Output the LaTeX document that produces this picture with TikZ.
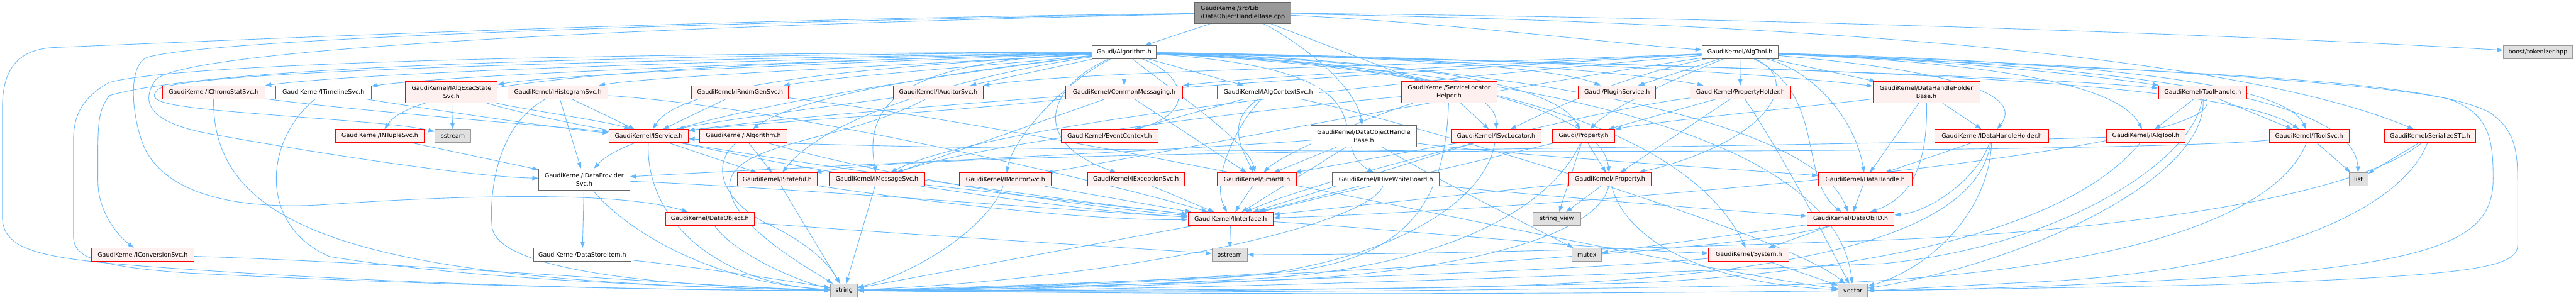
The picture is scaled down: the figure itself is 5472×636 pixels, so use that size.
\documentclass[tikz,border=0pt]{standalone}
\usepackage{fontspec}
\setmainfont{DejaVu Sans}
\usetikzlibrary{arrows.meta,calc,backgrounds}
\definecolor{eb}{HTML}{63B8FF}
\definecolor{rb}{HTML}{FF0000}
\definecolor{rf}{HTML}{FFF0F0}
\definecolor{gb}{HTML}{666666}
\definecolor{xf}{HTML}{E0E0E0}
\definecolor{xb}{HTML}{999999}
\definecolor{mf}{HTML}{999999}
\tikzset{
 nb/.style={draw, rectangle, inner sep=0pt, minimum height=28pt, font=\fontsize{12.7}{17}\selectfont, line width=1.2pt, align=center},
 redn/.style={nb, draw=rb, fill=rf},
 whn/.style={nb, draw=gb, fill=white},
 extn/.style={nb, draw=xb, fill=xf},
 mainn/.style={nb, draw=gb, fill=mf, align=left},
 two/.style={minimum height=45pt},
 dep/.style={draw=eb, line width=1.2pt, -{Triangle[length=13pt,width=9pt]}},
}
\begin{document}
\begin{tikzpicture}[x=1pt,y=-1pt]
\useasboundingbox (0,0) rectangle (5472,636);
% row 1-2
\node[mainn, two, minimum width=204pt] (main) at (2640,27.5) {GaudiKernel/src/Lib\\/DataObjectHandleBase.cpp};
\node[whn, minimum width=137pt] (alg) at (2388,111) {Gaudi/Algorithm.h};
\node[whn, minimum width=162pt] (algtool) at (3696,111) {GaudiKernel/AlgTool.h};
\node[extn, minimum width=147pt] (boost) at (5391,111) {boost/tokenizer.hpp};
% row 3
\node[redn, minimum width=217pt] (chrono) at (454,196) {GaudiKernel/IChronoStatSvc.h};
\node[whn, minimum width=203pt] (timeline) at (687,196) {GaudiKernel/ITimelineSvc.h};
\node[redn, two, minimum width=195pt] (execstate) at (959,196) {GaudiKernel/IAlgExecState\\Svc.h};
\node[redn, minimum width=213pt] (histo) at (1185,196) {GaudiKernel/IHistogramSvc.h};
\node[redn, minimum width=206pt] (rndm) at (1572,196) {GaudiKernel/IRndmGenSvc.h};
\node[redn, minimum width=190pt] (auditor) at (1993,196) {GaudiKernel/IAuditorSvc.h};
\node[redn, minimum width=248pt] (commsg) at (2388,196) {GaudiKernel/CommonMessaging.h};
\node[whn, minimum width=217pt] (algctx) at (2694,196) {GaudiKernel/IAlgContextSvc.h};
\node[redn, two, minimum width=203pt] (slh) at (3078,196) {GaudiKernel/ServiceLocator\\Helper.h};
\node[redn, minimum width=164pt] (plugin) at (3435,196) {Gaudi/PluginService.h};
\node[redn, minimum width=213pt] (propholder) at (3697,196) {GaudiKernel/PropertyHolder.h};
\node[redn, two, minimum width=227pt] (dhhb) at (4092,196) {GaudiKernel/DataHandleHolder\\Base.h};
\node[redn, minimum width=188pt] (toolhandle) at (4679,196) {GaudiKernel/ToolHandle.h};
% row 4
\node[redn, minimum width=188pt] (ntuple) at (807,289) {GaudiKernel/INTupleSvc.h};
\node[extn, minimum width=77pt] (sstream) at (962,289) {sstream};
\node[redn, minimum width=168pt] (iservice) at (1378,289) {GaudiKernel/IService.h};
\node[redn, minimum width=185pt] (ialgorithm) at (1579,289) {GaudiKernel/IAlgorithm.h};
\node[redn, minimum width=206pt] (evctx) at (2357,289) {GaudiKernel/EventContext.h};
\node[whn, two, minimum width=224pt] (dohb) at (2897,289) {GaudiKernel/DataObjectHandle\\Base.h};
\node[redn, minimum width=192pt] (isvcloc) at (3178,289) {GaudiKernel/ISvcLocator.h};
\node[redn, minimum width=133pt] (property) at (3364,289) {Gaudi/Property.h};
\node[redn, minimum width=241pt] (idhh) at (4231,289) {GaudiKernel/IDataHandleHolder.h};
\node[redn, minimum width=168pt] (ialgtool) at (4558,289) {GaudiKernel/IAlgTool.h};
\node[redn, minimum width=170pt] (itoolsvc) at (4905,289) {GaudiKernel/IToolSvc.h};
\node[redn, minimum width=194pt] (serial) at (5162,289) {GaudiKernel/SerializeSTL.h};
% row 5
\node[whn, two, minimum width=193pt] (idps) at (1241,381) {GaudiKernel/IDataProvider\\Svc.h};
\node[redn, minimum width=170pt] (istateful) at (1651,381) {GaudiKernel/IStateful.h};
\node[redn, minimum width=202pt] (imsg) at (1863,381) {GaudiKernel/IMessageSvc.h};
\node[redn, minimum width=195pt] (imon) at (2136,381) {GaudiKernel/IMonitorSvc.h};
\node[redn, minimum width=206pt] (iexc) at (2413,381) {GaudiKernel/IExceptionSvc.h};
\node[redn, minimum width=168pt] (smartif) at (2670,381) {GaudiKernel/SmartIF.h};
\node[whn, minimum width=227pt] (ihwb) at (2944,381) {GaudiKernel/IHiveWhiteBoard.h};
\node[redn, minimum width=175pt] (iprop) at (3420,381) {GaudiKernel/IProperty.h};
\node[redn, minimum width=199pt] (dh) at (3962,381) {GaudiKernel/DataHandle.h};
\node[extn, minimum width=40pt] (list) at (5010,381) {list};
% row 6
\node[redn, minimum width=189pt] (dobj) at (1508,465) {GaudiKernel/DataObject.h};
\node[redn, minimum width=181pt] (iint) at (2614,465) {GaudiKernel/IInterface.h};
\node[extn, minimum width=101pt] (sv) at (3307,465) {string\_view};
\node[redn, minimum width=185pt] (dobjid) at (3931,465) {GaudiKernel/DataObjID.h};
% row 7
\node[redn, minimum width=217pt] (iconv) at (303,541) {GaudiKernel/IConversionSvc.h};
\node[whn, minimum width=206pt] (dsi) at (1237,541) {GaudiKernel/DataStoreItem.h};
\node[extn, minimum width=75pt] (ostream) at (2612,541) {ostream};
\node[extn, minimum width=63pt] (mutex) at (3371,541) {mutex};
\node[redn, minimum width=171pt] (system) at (3715,541) {GaudiKernel/System.h};
% row 8
\node[extn, minimum width=57pt] (string) at (1793,617) {string};
\node[extn, minimum width=63pt] (vector) at (3936,617) {vector};

\begin{pgfonlayer}{background}
% main
\draw[dep] (main) -- (alg);
\draw[dep] (main) .. controls (3100,50) and (3450,95) .. (algtool);
\draw[dep] (main) .. controls (3600,35) and (4700,70) .. (boost);
\draw[dep] (main) .. controls (3600,45) and (4700,95) .. (serial);
\draw[dep] (main) -- (slh);
\draw[dep] (main) .. controls (2760,90) and (2880,180) .. (dohb);
\draw[dep] (main) .. controls (1500,40) and (500,85) .. (112,101) .. controls (35,106) and (5,150) .. (5,230) -- (5,460) .. controls (5,530) and (80,548) .. (300,565) .. controls (900,610) and (1500,617) .. (string);
\draw[dep] (main) .. controls (1600,45) and (450,80) .. (312,122) .. controls (270,140) and (280,250) .. (306,312) .. controls (360,430) and (550,445) .. (700,434) .. controls (900,420) and (1300,400) .. (dobj);
\draw[dep] (main) .. controls (1600,50) and (400,95) .. (330,170) .. controls (300,215) and (310,260) .. (450,285) .. controls (700,330) and (1000,375) .. (idps);
% alg
\draw[dep] (alg) .. controls (1700,125) and (800,150) .. (chrono);
\draw[dep] (alg) .. controls (1800,128) and (1000,155) .. (timeline);
\draw[dep] (alg) .. controls (1900,130) and (1200,155) .. (execstate);
\draw[dep] (alg) .. controls (2000,135) and (1400,160) .. (histo);
\draw[dep] (alg) .. controls (1700,132) and (900,150) .. (ntuple);
\draw[dep] (alg) .. controls (1300,118) and (450,140) .. (232,203) .. controls (205,240) and (208,270) .. (208,385) .. controls (208,450) and (250,500) .. (iconv);
\draw[dep] (alg) .. controls (1300,128) and (400,150) .. (335,190) .. controls (315,212) and (330,222) .. (480,236) .. controls (700,255) and (850,262) .. (sstream);
\draw[dep] (alg) .. controls (1400,112) and (400,130) .. (232,175) .. controls (170,210) and (156,250) .. (156,300) -- (156,500) .. controls (156,540) and (180,565) .. (400,580) .. controls (1000,610) and (1500,617) .. (string);
\draw[dep] (alg) .. controls (2100,140) and (1800,160) .. (rndm);
\draw[dep] (alg) -- (auditor);
\draw[dep] (alg) -- (commsg);
\draw[dep] (alg) -- (algctx);
\draw[dep] (alg) .. controls (2520,160) and (2540,240) .. (evctx);
\draw[dep] (alg) .. controls (1900,140) and (1450,170) .. (iservice);
\draw[dep] (alg) .. controls (2050,150) and (1700,200) .. (ialgorithm);
\draw[dep] (alg) .. controls (2050,160) and (1750,250) .. (istateful);
\draw[dep] (alg) .. controls (1950,130) and (1830,200) .. (imsg);
\draw[dep] (alg) .. controls (2250,180) and (2150,300) .. (imon);
\draw[dep] (alg) .. controls (2230,180) and (2180,300) .. (iexc);
\draw[dep] (alg) .. controls (1900,170) and (1350,260) .. (idps);
\draw[dep] (alg) .. controls (2900,130) and (3180,170) .. (isvcloc);
\draw[dep] (alg) .. controls (2950,125) and (3300,170) .. (property);
\draw[dep] (alg) .. controls (2900,118) and (3300,140) .. (plugin);
\draw[dep] (alg) .. controls (3000,118) and (3450,150) .. (propholder);
\draw[dep] (alg) .. controls (3100,120) and (3700,150) .. (dhhb);
\draw[dep] (alg) .. controls (3300,130) and (4300,160) .. (toolhandle);
\draw[dep] (alg) .. controls (3000,140) and (3400,220) .. (iprop);
\draw[dep] (alg) .. controls (3200,140) and (3600,300) .. (system);
\draw[dep] (alg) .. controls (3300,150) and (3900,300) .. (vector);
\draw[dep] (alg) .. controls (3000,150) and (2800,300) .. (ihwb);
\draw[dep] (alg) .. controls (3500,140) and (4700,150) .. (itoolsvc);
\draw[dep] (alg) .. controls (3200,135) and (3850,250) .. (dobjid);
\draw[dep] (alg) .. controls (2500,200) and (2650,300) .. (smartif);
% algtool
\draw[dep] (algtool) -- (plugin);
\draw[dep] (algtool) -- (propholder);
\draw[dep] (algtool) -- (dhhb);
\draw[dep] (algtool) .. controls (4100,125) and (4450,160) .. (toolhandle);
\draw[dep] (algtool) .. controls (3830,170) and (3760,300) .. (iprop);
\draw[dep] (algtool) .. controls (3850,150) and (3940,250) .. (dh);
\draw[dep] (algtool) .. controls (3880,200) and (3820,380) .. (dobjid);
\draw[dep] (algtool) .. controls (4400,135) and (5050,175) .. (5200,210) .. controls (5290,240) and (5296,300) .. (5296,380) .. controls (5296,500) and (5200,560) .. (4700,590) .. controls (4300,612) and (4100,617) .. (vector);
\draw[dep] (algtool) .. controls (4500,150) and (5150,160) .. (5290,240) .. controls (5348,280) and (5348,330) .. (5348,400) -- (5348,520) .. controls (5348,570) and (5250,585) .. (4700,605) .. controls (3500,630) and (2500,625) .. (string);
\draw[dep] (algtool) .. controls (4150,150) and (4300,200) .. (idhh);
\draw[dep] (algtool) .. controls (4250,135) and (4500,180) .. (ialgtool);
\draw[dep] (algtool) .. controls (4400,130) and (4850,170) .. (itoolsvc);
\draw[dep] (algtool) .. controls (4500,140) and (5000,200) .. (list);
\draw[dep] (algtool) .. controls (3450,160) and (3300,230) .. (isvcloc);
\draw[dep] (algtool) .. controls (3550,170) and (3420,230) .. (property);
\draw[dep] (algtool) .. controls (3200,135) and (2700,160) .. (commsg);
\draw[dep] (algtool) .. controls (3000,140) and (2300,150) .. (auditor);
\draw[dep] (algtool) .. controls (3000,150) and (1800,230) .. (iservice);
\draw[dep] (algtool) .. controls (3000,170) and (2100,260) .. (imsg);
\draw[dep] (algtool) .. controls (3100,200) and (2500,320) .. (imon);
% row 3 sources
\draw[dep] (chrono) .. controls (800,240) and (1200,270) .. (iservice);
\draw[dep] (chrono) .. controls (449,500) and (800,600) .. (string);
\draw[dep] (timeline) .. controls (900,230) and (1200,275) .. (iservice);
\draw[dep] (timeline) .. controls (560,300) and (549,480) .. (700,545) .. controls (1000,595) and (1500,612) .. (string);
\draw[dep] (execstate) -- (sstream);
\draw[dep] (execstate) .. controls (1100,230) and (1300,260) .. (iservice);
\draw[dep] (execstate) .. controls (1300,300) and (2300,430) .. (iint);
\draw[dep] (histo) -- (idps);
\draw[dep] (histo) -- (iservice);
\draw[dep] (histo) .. controls (1050,270) and (1040,420) .. (1045,480) .. controls (1050,560) and (1300,605) .. (string);
\draw[dep] (histo) .. controls (1700,230) and (2400,400) .. (iint);
\draw[dep] (rndm) -- (iservice);
\draw[dep] (rndm) .. controls (2300,280) and (3500,560) .. (vector);
\draw[dep] (auditor) .. controls (1800,220) and (1500,260) .. (iservice);
\draw[dep] (auditor) .. controls (1800,300) and (1560,300) .. (1550,390) .. controls (1545,470) and (1700,560) .. (string);
\draw[dep] (commsg) -- (imsg);
\draw[dep] (commsg) -- (smartif);
\draw[dep] (commsg) .. controls (2000,240) and (1600,260) .. (iservice);
\draw[dep] (algctx) .. controls (2600,260) and (2640,320) .. (smartif);
\draw[dep] (algctx) -- (evctx);
\draw[dep] (algctx) .. controls (2630,260) and (2570,380) .. (iint);
\draw[dep] (algctx) .. controls (3000,260) and (3800,500) .. (vector);
\draw[dep] (slh) -- (isvcloc);
\draw[dep] (slh) .. controls (3070,420) and (3000,560) .. (2700,580) .. controls (2300,605) and (2000,615) .. (string);
\draw[dep] (slh) .. controls (2700,230) and (2100,300) .. (imsg);
\draw[dep] (slh) .. controls (2900,250) and (2720,330) .. (smartif);
\draw[dep] (propholder) -- (property);
\draw[dep] (propholder) -- (iprop);
\draw[dep] (propholder) .. controls (3800,350) and (3900,550) .. (vector);
\draw[dep] (propholder) .. controls (3400,230) and (2800,380) .. (iint);
\draw[dep] (dhhb) -- (idhh);
\draw[dep] (dhhb) -- (dh);
\draw[dep] (dhhb) .. controls (4095,350) and (4060,420) .. (dobjid);
\draw[dep] (dhhb) .. controls (3900,220) and (3500,260) .. (property);
\draw[dep] (toolhandle) -- (ialgtool);
\draw[dep] (toolhandle) -- (itoolsvc);
\draw[dep] (toolhandle) .. controls (4665,330) and (4400,520) .. (4000,560) .. controls (3000,600) and (2300,620) .. (string);
\draw[dep] (toolhandle) .. controls (4690,380) and (4300,560) .. (vector);
\draw[dep] (toolhandle) .. controls (4750,330) and (3200,450) .. (iint);
% row 4 sources
\draw[dep] (ntuple) -- (idps);
\draw[dep] (iservice) -- (istateful);
\draw[dep] (iservice) .. controls (1800,380) and (2300,450) .. (iint);
\draw[dep] (iservice) .. controls (1370,450) and (1500,600) .. (string);
\draw[dep] (ialgorithm) -- (istateful);
\draw[dep] (ialgorithm) .. controls (1900,380) and (2300,440) .. (iint);
\draw[dep] (ialgorithm) .. controls (1500,360) and (1550,440) .. (1640,480) .. controls (1720,520) and (1760,560) .. (string);
\draw[dep] (dohb) -- (smartif);
\draw[dep] (dohb) .. controls (3050,380) and (3250,480) .. (mutex);
\draw[dep] (dohb) .. controls (3200,330) and (3700,360) .. (dh);
\draw[dep] (dohb) .. controls (2500,320) and (1600,360) .. (idps);
\draw[dep] (dohb) -- (iint);
\draw[dep] (isvcloc) -- (smartif);
\draw[dep] (isvcloc) .. controls (3150,450) and (2900,570) .. (2600,590) .. controls (2200,610) and (1950,617) .. (string);
\draw[dep] (isvcloc) -- (iint);
\draw[dep] (property) -- (iprop);
\draw[dep] (property) -- (sv);
\draw[dep] (property) .. controls (3300,430) and (3100,560) .. (2700,590) .. controls (2300,612) and (2000,617) .. (string);
\draw[dep] (property) -- (iint);
\draw[dep] (idhh) -- (dh);
\draw[dep] (idhh) .. controls (4200,380) and (4100,450) .. (dobjid);
\draw[dep] (idhh) .. controls (4225,450) and (4100,570) .. (vector);
\draw[dep] (idhh) .. controls (4200,480) and (3900,600) .. (3000,612) .. controls (2500,617) and (2000,617) .. (string);
\draw[dep] (ialgtool) .. controls (3500,322) and (2000,318) .. (istateful);
\draw[dep] (ialgtool) .. controls (4450,420) and (4200,560) .. (3500,600) .. controls (2800,620) and (2200,620) .. (string);
\draw[dep] (itoolsvc) -- (list);
\draw[dep] (itoolsvc) .. controls (4850,430) and (4600,580) .. (3800,605) .. controls (3000,622) and (2200,622) .. (string);
\draw[dep] (itoolsvc) .. controls (4500,330) and (2000,330) .. (iservice);
\draw[dep] (serial) -- (list);
\draw[dep] (serial) .. controls (5000,420) and (4500,490) .. (4000,510) .. controls (3300,535) and (2900,541) .. (ostream);
\draw[dep] (serial) .. controls (5100,450) and (4800,580) .. (4300,600) .. controls (4100,610) and (4000,617) .. (vector);
% row 5 sources
\draw[dep] (idps) -- (dsi);
\draw[dep] (idps) .. controls (1700,400) and (2300,450) .. (iint);
\draw[dep] (idps) .. controls (1320,480) and (1500,600) .. (string);
\draw[dep] (istateful) .. controls (1900,420) and (2300,470) .. (iint);
\draw[dep] (istateful) -- (string);
\draw[dep] (imsg) -- (iint);
\draw[dep] (imsg) -- (string);
\draw[dep] (imon) -- (iint);
\draw[dep] (imon) .. controls (2100,480) and (1950,580) .. (string);
\draw[dep] (iexc) -- (iint);
\draw[dep] (smartif) -- (iint);
\draw[dep] (ihwb) -- (iint);
\draw[dep] (ihwb) .. controls (2900,480) and (2400,590) .. (string);
\draw[dep] (ihwb) .. controls (3200,410) and (3700,450) .. (dobjid);
\draw[dep] (iprop) -- (iint);
\draw[dep] (iprop) -- (sv);
\draw[dep] (iprop) .. controls (3400,480) and (3200,560) .. (2800,590) .. controls (2400,612) and (2000,617) .. (string);
\draw[dep] (iprop) .. controls (3450,500) and (3600,600) .. (vector);
\draw[dep] (dh) -- (dobjid);
% row 6-7 sources
\draw[dep] (dobj) .. controls (1560,540) and (1700,600) .. (string);
\draw[dep] (dobj) .. controls (1800,490) and (2300,520) .. (ostream);
\draw[dep] (iint) -- (ostream);
\draw[dep] (iint) -- (string);
\draw[dep] (iint) .. controls (3000,490) and (3400,530) .. (system);
\draw[dep] (dobjid) .. controls (3700,540) and (2500,600) .. (string);
\draw[dep] (dobjid) -- (mutex);
\draw[dep] (dobjid) -- (system);
\draw[dep] (system) .. controls (3300,580) and (2300,610) .. (string);
\draw[dep] (system) -- (vector);
\draw[dep] (dsi) .. controls (1500,570) and (1700,600) .. (string);
\draw[dep] (iconv) .. controls (900,560) and (1500,610) .. (string);
\end{pgfonlayer}
\end{tikzpicture}
\end{document}
